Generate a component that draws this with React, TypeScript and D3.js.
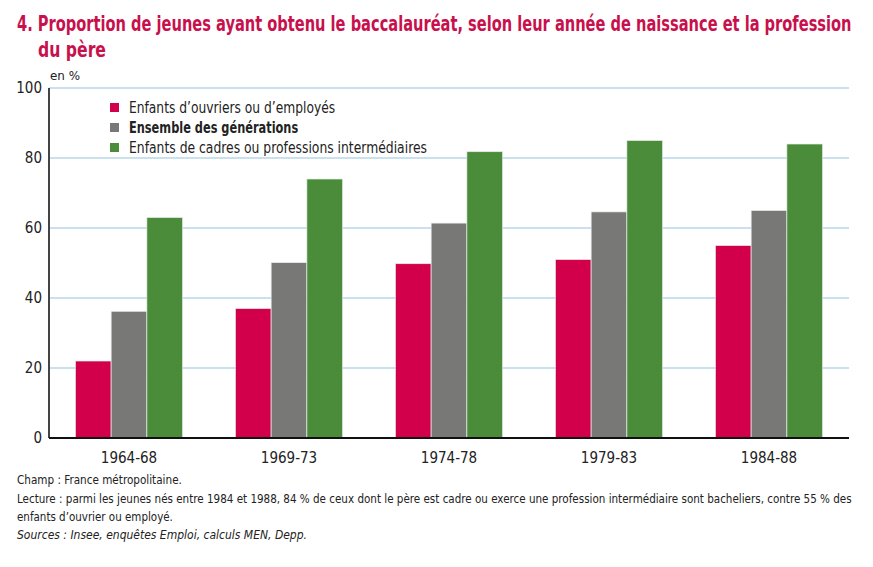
import { useLayoutEffect, useRef, useState } from 'react'
import type { ReactNode } from 'react'
import * as d3 from 'd3'

const CATEGORIES = ['1964-68', '1969-73', '1974-78', '1979-83', '1984-88']
const SERIES = [
  'Enfants d’ouvriers ou d’employés',
  'Ensemble des générations',
  'Enfants de cadres ou professions intermédiaires',
]
const OUVRIERS = [22, 37, 49.8, 51, 55]
const ENSEMBLE = [36.2, 50.1, 61.4, 64.6, 65]
const CADRES = [63, 74, 81.8, 85, 84]
const Y_TICKS = [0, 20, 40, 60, 80, 100]
const LEGEND_WIDTHS = [206, 169, 298]

const COLORS = ['#D2004B', '#787876', '#4A8C39']
const TITLE_COLOR = '#C8104D'
const GRID = '#B7D6EA'
const FONT = "'Liberation Sans Narrow', 'DejaVu Sans Condensed', 'Liberation Sans', sans-serif"

const W = 873
const H = 567
const M = { left: 49, right: 24, top: 88, bottom: 129 }

// text squeezed horizontally to a given width, to stand in for a narrow font
function FitText({ x, y, width, children, ...rest }: { x: number; y: number; width: number; children: ReactNode; [k: string]: any }) {
  const ref = useRef<SVGTextElement>(null)
  const [sx, setSx] = useState(0.9)
  useLayoutEffect(() => {
    if (!ref.current) return
    const len = ref.current.getComputedTextLength()
    if (len > 0) setSx(width / len)
  }, [width, children])
  return (
    <text ref={ref} transform={`translate(${x},${y}) scale(${sx},1)`} {...rest}>
      {children}
    </text>
  )
}

export default function App() {
  const values = [OUVRIERS, ENSEMBLE, CADRES]
  const x = d3.scaleBand().domain(CATEGORIES).range([M.left, W - M.right]).paddingInner(0.33).paddingOuter(0.165)
  const xs = d3.scaleBand().domain(SERIES).range([0, x.bandwidth()])
  const y = d3.scaleLinear().domain([0, 100]).range([H - M.bottom, M.top])

  return (
    <svg width={W} height={H} style={{ position: 'absolute', left: 0, top: 0, background: '#fff' }} fontFamily={FONT}>
      <FitText x={17} y={31} width={835} fill={TITLE_COLOR} fontSize={21} fontWeight="bold">
        4. Proportion de jeunes ayant obtenu le baccalauréat, selon leur année de naissance et la profession
      </FitText>
      <FitText x={38} y={57} width={68} fill={TITLE_COLOR} fontSize={21} fontWeight="bold">
        du père
      </FitText>
      <FitText x={50} y={80} width={30} fontSize={13} fill="#222">en %</FitText>

      {Y_TICKS.filter((t) => t > 0).map((t) => (
        <line key={t} x1={M.left} x2={W - M.right} y1={y(t)} y2={y(t)} stroke={GRID} strokeWidth={1.3} />
      ))}
      {Y_TICKS.map((t) => (
        <text key={t} x={42} y={y(t) + 5} textAnchor="end" fontSize={15} fill="#222">{t}</text>
      ))}

      {CATEGORIES.map((c, i) => (
        <g key={c} transform={`translate(${x(c)},0)`}>
          {SERIES.map((s, j) => (
            <rect key={s} x={xs(s)} width={xs.bandwidth()} y={y(values[j][i])} height={y(0) - y(values[j][i])}
              fill={COLORS[j]} stroke="#e8eee8" strokeWidth={0.7} />
          ))}
          <text x={x.bandwidth() / 2} y={y(0) + 25} textAnchor="middle" fontSize={15} fill="#222">{c}</text>
        </g>
      ))}

      <line x1={M.left} x2={M.left} y1={M.top} y2={y(0)} stroke="#444" strokeWidth={2} />
      <line x1={M.left} x2={W - M.right} y1={y(0)} y2={y(0)} stroke="#111" strokeWidth={2} />

      {SERIES.map((s, j) => (
        <g key={s} transform={`translate(110,${108 + j * 20})`}>
          <rect x={0} y={-5} width={9} height={9} fill={COLORS[j]} />
          <FitText x={19} y={5} width={LEGEND_WIDTHS[j]} fontSize={15} fill="#222" fontWeight={j === 1 ? 'bold' : 'normal'}>{s}</FitText>
        </g>
      ))}

      <g fontSize={13} fill="#222">
        <FitText x={17} y={484} width={165}>Champ : France métropolitaine.</FitText>
        <FitText x={17} y={503} width={835}>
          Lecture : parmi les jeunes nés entre 1984 et 1988, 84 % de ceux dont le père est cadre ou exerce une profession intermédiaire sont bacheliers, contre 55 % des
        </FitText>
        <FitText x={17} y={521} width={156}>enfants d’ouvrier ou employé.</FitText>
        <FitText x={17} y={539} width={290} fontStyle="italic">Sources : Insee, enquêtes Emploi, calculs MEN, Depp.</FitText>
      </g>
    </svg>
  )
}
